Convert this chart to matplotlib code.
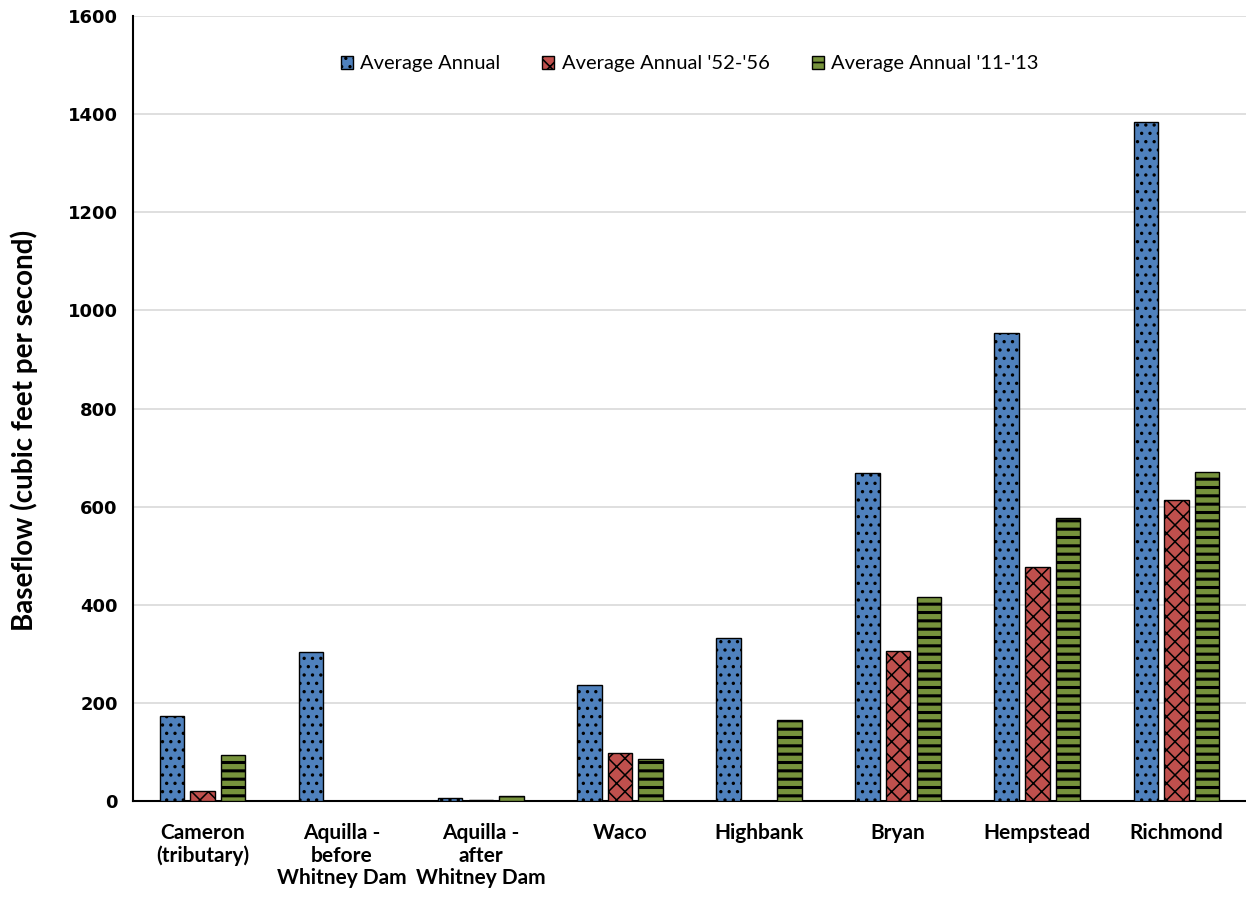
import numpy as np
import matplotlib
matplotlib.use('Agg')
import matplotlib.pyplot as plt

# sites along the river
sites = ['Cameron\n(tributary)', 'Aquilla -\nbefore\nWhitney Dam', 'Aquilla -\nafter\nWhitney Dam',
         'Waco', 'Highbank', 'Bryan', 'Hempstead', 'Richmond']

# baseflow, cubic feet per second
avg_annual = [173, 304, 6, 236, 332, 668, 954, 1384]
avg_52_56 = [20, 0, 2, 98, 0, 306, 476, 613]
avg_11_13 = [94, 0, 10, 86, 165, 416, 576, 671]

series_names = ["Average Annual", "Average Annual '52-'56", "Average Annual '11-'13"]
y_ticks = [0, 200, 400, 600, 800, 1000, 1200, 1400, 1600]

plt.rcParams['hatch.linewidth'] = 1.2
label_font = ['Lato', 'DejaVu Sans']

fig = plt.figure(figsize=(12.46, 9.01), dpi=100)
ax = fig.add_axes([133 / 1246, 100 / 901, 1113 / 1246, 785 / 901])

x = np.arange(len(sites))
w = 0.176
step = 0.22
styles = [('#4F81BD', '..', 1.2), ('#C0504D', 'xx', 1.1), ('#77933C', '--', 2.2)]
for i, (vals, (col, hatch, hlw)) in enumerate(zip([avg_annual, avg_52_56, avg_11_13], styles)):
    bars = ax.bar(x + (i - 1) * step, vals, width=w, color=col, hatch=hatch,
                  edgecolor='black', linewidth=1.0, label=series_names[i], zorder=3)
    for b in bars:
        if hasattr(b, 'set_hatch_linewidth'):
            b.set_hatch_linewidth(hlw)

ax.set_xlim(-0.5, len(sites) - 0.5)
ax.set_ylim(0, 1600)
ax.set_yticks(y_ticks)
ax.set_yticklabels([str(t) for t in y_ticks], fontsize=13, fontweight='bold', family='DejaVu Sans')
ax.set_xticks(x)
ax.set_xticklabels(sites, fontsize=15, fontweight='bold', family=label_font, linespacing=1.15)
ax.tick_params(axis='both', length=0)
ax.tick_params(axis='y', pad=11)
ax.tick_params(axis='x', pad=16)
ax.yaxis.grid(True, color='#D9D9D9', linewidth=1.2, zorder=0)
ax.set_axisbelow(True)
for s in ['top', 'right']:
    ax.spines[s].set_visible(False)
ax.spines['left'].set_linewidth(1.5)
ax.spines['bottom'].set_linewidth(1.5)

ax.set_ylabel('Baseflow (cubic feet per second)', fontsize=20, fontweight='bold',
              family=label_font)
ax.yaxis.set_label_coords(-0.0854, 0.4726)

leg = ax.legend(loc='upper center', bbox_to_anchor=(0.5, 0.973), ncol=3, frameon=False,
                prop={'family': label_font, 'size': 14.5}, handlelength=0.6, handleheight=0.6,
                handletextpad=0.35, columnspacing=2.1)

fig.savefig('out.png', dpi=100)
